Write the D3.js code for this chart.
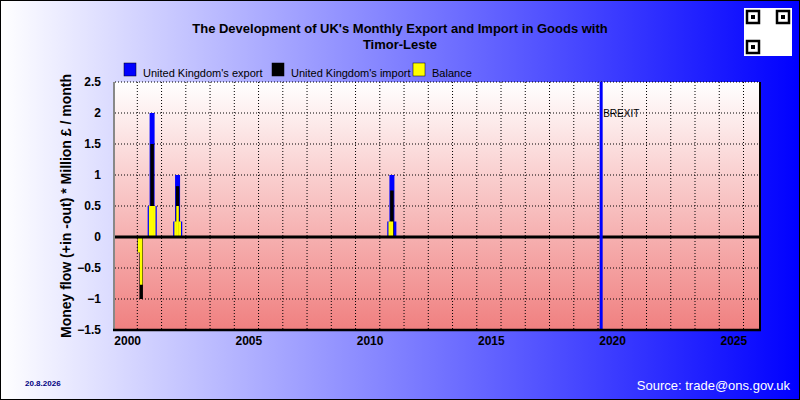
<!DOCTYPE html>
<html><head><meta charset="utf-8">
<script src="https://cdn.jsdelivr.net/npm/d3@7"></script>
<style>body{margin:0}svg{display:block;font-family:Arial,"Liberation Sans",sans-serif}</style>
</head><body><svg id="c" width="800" height="400"></svg>
<script>
const title1 = "The Development of UK's Monthly Export and Import in Goods with";
const title2 = "Timor-Leste";
const legendLabels = ["United Kingdom's export","United Kingdom's import","Balance"];
const yTicks = [2.5,2,1.5,1,0.5,0,-0.5,-1,-1.5];
const xTicks = [2000,2005,2010,2015,2020,2025];
// months as decimal years
const months = [2000.50, 2000.58, 2000.95, 2001.03, 2001.12, 2002.0, 2002.08, 2002.17, 2010.83, 2010.92, 2011.0];
const exportVals = [0.0, 0.0, 0.5, 2.0, 0.5, 0.25, 1.0, 0.25, 0.25, 1.0, 0.25];
const importVals = [-0.25, -1.0, 0.0, 1.5, 0.0, 0.0, 0.82, 0.0, 0.0, 0.75, 0.0];
const balanceVals = [-0.25, -0.77, 0.5, 0.5, 0.5, 0.25, 0.5, 0.25, 0.25, 0.25, 0.0];
const brexitYear = 2019.55;

const svg = d3.select("#c");
const defs = svg.append("defs");
const bg = defs.append("linearGradient").attr("id","bg");
bg.append("stop").attr("offset","0%").attr("stop-color","#ffffff");
bg.append("stop").attr("offset","100%").attr("stop-color","#0000ff");
const pg = defs.append("linearGradient").attr("id","pg").attr("x1",0).attr("x2",0).attr("y1",0).attr("y2",1);
pg.append("stop").attr("offset","0%").attr("stop-color","#ffffff");
pg.append("stop").attr("offset","100%").attr("stop-color","#f08080");

svg.append("rect").attr("width",800).attr("height",400).attr("fill","url(#bg)");
svg.append("rect").attr("x",0.5).attr("y",0.5).attr("width",799).attr("height",399).attr("fill","none").attr("stroke","#000");

const L=115,R=760,T=82,B=330;
const x = d3.scaleLinear().domain([1999.5,2026.1]).range([L,R]);
const y = d3.scaleLinear().domain([-1.5,2.5]).range([B,T]);

svg.append("rect").attr("x",L).attr("y",T).attr("width",R-L).attr("height",B-T).attr("fill","url(#pg)");
const g = svg.append("g");
yTicks.forEach(v=>g.append("line").attr("x1",L).attr("x2",R).attr("y1",y(v)).attr("y2",y(v)).attr("stroke","#000").attr("stroke-dasharray","1,2"));
d3.range(2000.42,2026,1).forEach(v=>g.append("line").attr("x1",x(v)).attr("x2",x(v)).attr("y1",T).attr("y2",B).attr("stroke","#000").attr("stroke-dasharray","1,2"));

function bars(vals,color,w){
  svg.append("g").selectAll("rect").data(months).join("rect")
    .attr("x",(d)=>x(d)-w/2).attr("width",w)
    .attr("y",(d,i)=>Math.min(y(vals[i]),y(0))).attr("height",(d,i)=>Math.abs(y(vals[i])-y(0)))
    .attr("fill",color);
}
bars(exportVals,"#0000ff",5);
bars(importVals,"#000000",3.5);
bars(balanceVals,"#ffff00",2.5);

svg.append("line").attr("x1",L).attr("x2",R).attr("y1",y(0)).attr("y2",y(0)).attr("stroke","#000").attr("stroke-width",3);
svg.append("line").attr("x1",x(brexitYear)).attr("x2",x(brexitYear)).attr("y1",T).attr("y2",B).attr("stroke","#0000ff").attr("stroke-width",3);
svg.append("text").attr("x",x(brexitYear)+2).attr("y",y(2)+4).attr("font-size",10).text("BREXIT");

const ya = svg.append("g").attr("transform",`translate(${L},0)`).call(d3.axisLeft(y).tickValues(yTicks).tickSize(0).tickPadding(14).tickFormat(d3.format("")));
ya.select(".domain").remove();
ya.selectAll("text").attr("font-size",12).attr("font-weight","bold").attr("font-family","Arial,'Liberation Sans',sans-serif").attr("fill","#000");
const xa = svg.append("g").attr("transform",`translate(0,${B})`).call(d3.axisBottom(x).tickValues(xTicks).tickSize(0).tickPadding(6).tickFormat(d3.format("d")));
xa.select(".domain").remove();
xa.selectAll("text").attr("font-size",12).attr("font-weight","bold").attr("font-family","Arial,'Liberation Sans',sans-serif").attr("fill","#000");
svg.append("line").attr("x1",L-1).attr("x2",L-1).attr("y1",T).attr("y2",B).attr("stroke","#888").attr("stroke-width",2);
svg.append("line").attr("x1",R).attr("x2",R).attr("y1",T).attr("y2",B+1).attr("stroke","#000").attr("stroke-width",2);
svg.append("line").attr("x1",L-2).attr("x2",R+1).attr("y1",B).attr("y2",B).attr("stroke","#000").attr("stroke-width",2.5);

svg.append("text").attr("x",400).attr("y",33).attr("text-anchor","middle").attr("font-size",13).attr("font-weight","bold").text(title1);
svg.append("text").attr("x",400).attr("y",49).attr("text-anchor","middle").attr("font-size",13).attr("font-weight","bold").text(title2);
svg.append("text").attr("transform","translate(71,206) rotate(-90)").attr("text-anchor","middle").attr("font-size",14).attr("font-weight","bold").text("Money flow (+in -out) * Million £ / month");

const lc=["#0000ff","#000000","#ffff00"], lx=[124,272,413];
legendLabels.forEach((t,i)=>{
  svg.append("rect").attr("x",lx[i]).attr("y",63).attr("width",12).attr("height",13).attr("fill",lc[i]).attr("stroke","#000").attr("stroke-width",0.5);
  svg.append("text").attr("x",lx[i]+19).attr("y",77).attr("font-size",11).text(t);
});
svg.append("text").attr("x",25).attr("y",386).attr("font-size",8).attr("font-weight","bold").attr("fill","#000080").text("20.8.2026");
svg.append("text").attr("x",790).attr("y",390).attr("text-anchor","end").attr("font-size",13).attr("fill","#fff").text("Source: trade@ons.gov.uk");
const qr = svg.append("g").attr("transform","translate(744,8)");
qr.append("rect").attr("width",48).attr("height",48).attr("fill","#fff");
[[3,3],[33,3],[3,33]].forEach(p=>{qr.append("rect").attr("x",p[0]).attr("y",p[1]).attr("width",12).attr("height",12).attr("fill","none").attr("stroke","#000").attr("stroke-width",2.5);qr.append("rect").attr("x",p[0]+4).attr("y",p[1]+4).attr("width",4).attr("height",4).attr("fill","#000");});
</script></body></html>
